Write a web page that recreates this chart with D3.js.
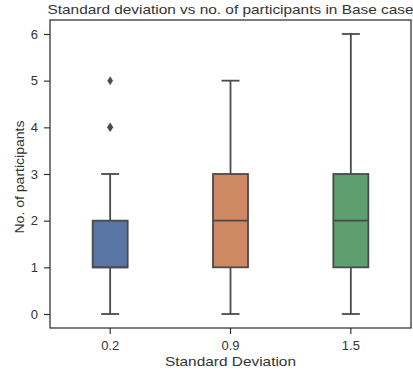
<!DOCTYPE html>
<html><head><meta charset="utf-8">
<script src="https://cdn.jsdelivr.net/npm/d3@7"></script>
<style>body{margin:0;background:#fff}svg{display:block}text{font-family:"Liberation Sans",Arial,sans-serif}</style>
</head><body><svg id="c" width="413" height="376"></svg>
<script>
const categories = ["0.2", "0.9", "1.5"];
const whiskerLow = [0, 0, 0];
const q1 = [1, 1, 1];
const median = [1, 2, 2];
const q3 = [2, 3, 3];
const whiskerHigh = [3, 5, 6];
const outliers = [[4, 4, 5], [], []];
const colors = ["#5975a4", "#cc8963", "#5f9e6e"];
const yTicks = [0, 1, 2, 3, 4, 5, 6];

const svg = d3.select("#c");
const m = {l: 50, r: 2, t: 20, b: 48};
const W = 413, H = 376;
const x = d3.scaleBand().domain(categories).range([m.l, W - m.r]);
const y = d3.scaleLinear().domain([-0.3, 6.3]).range([H - m.b, m.t]);
const bw = 35, cw = 18;
const edge = "#4a4a4a";
const sw = 1.8;

categories.forEach((c, i) => {
  const cx = x(c) + x.bandwidth() / 2;
  const g = svg.append("g");
  const ln = (x1, x2, y1, y2) => g.append("line").attr("x1", x1).attr("x2", x2).attr("y1", y1).attr("y2", y2).attr("stroke", edge).attr("stroke-width", sw);
  ln(cx, cx, y(whiskerLow[i]), y(q1[i]));
  ln(cx, cx, y(q3[i]), y(whiskerHigh[i]));
  ln(cx - cw / 2, cx + cw / 2, y(whiskerLow[i]), y(whiskerLow[i]));
  ln(cx - cw / 2, cx + cw / 2, y(whiskerHigh[i]), y(whiskerHigh[i]));
  g.append("rect").attr("x", cx - bw / 2).attr("width", bw).attr("y", y(q3[i])).attr("height", y(q1[i]) - y(q3[i]))
    .attr("fill", colors[i]).attr("stroke", edge).attr("stroke-width", sw);
  ln(cx - bw / 2, cx + bw / 2, y(median[i]), y(median[i]));
  outliers[i].forEach(v => {
    const py = y(v);
    g.append("path").attr("d", `M${cx},${py - 4}L${cx + 2.6},${py}L${cx},${py + 4}L${cx - 2.6},${py}Z`)
      .attr("fill", edge).attr("stroke", edge).attr("stroke-width", 0.5);
  });
});

svg.append("rect").attr("x", m.l).attr("y", m.t).attr("width", W - m.r - m.l).attr("height", H - m.b - m.t)
  .attr("fill", "none").attr("stroke", "#262626").attr("stroke-width", 1.2);

const yAxis = svg.append("g").attr("transform", `translate(${m.l},0)`).call(d3.axisLeft(y).tickValues(yTicks).tickFormat(d3.format("d")).tickSize(6).tickPadding(6));
const xAxis = svg.append("g").attr("transform", `translate(0,${H - m.b})`).call(d3.axisBottom(x).tickSize(6).tickPadding(7));
[yAxis, xAxis].forEach(a => {
  a.select(".domain").remove();
  a.selectAll("line").attr("stroke", "#262626").attr("stroke-width", 1.1);
  a.selectAll("text").attr("fill", "#333").style("font-size", "13px").style("font-family", "'Liberation Sans',Arial,sans-serif");
});

const cxp = (m.l + W - m.r) / 2;
svg.append("text").attr("x", cxp).attr("y", 14).attr("text-anchor", "middle")
  .attr("textLength", 366).attr("lengthAdjust", "spacingAndGlyphs")
  .style("font-size", "12.8px").attr("fill", "#333").text("Standard deviation vs no. of participants in Base case");
svg.append("text").attr("x", cxp).attr("y", 366).attr("text-anchor", "middle")
  .attr("textLength", 131).attr("lengthAdjust", "spacingAndGlyphs")
  .style("font-size", "13px").attr("fill", "#333").text("Standard Deviation");
svg.append("text").attr("transform", `translate(24,${(m.t + H - m.b) / 2 + 3}) rotate(-90)`).attr("text-anchor", "middle")
  .attr("textLength", 113).attr("lengthAdjust", "spacingAndGlyphs")
  .style("font-size", "13px").attr("fill", "#333").text("No. of participants");
</script></body></html>
